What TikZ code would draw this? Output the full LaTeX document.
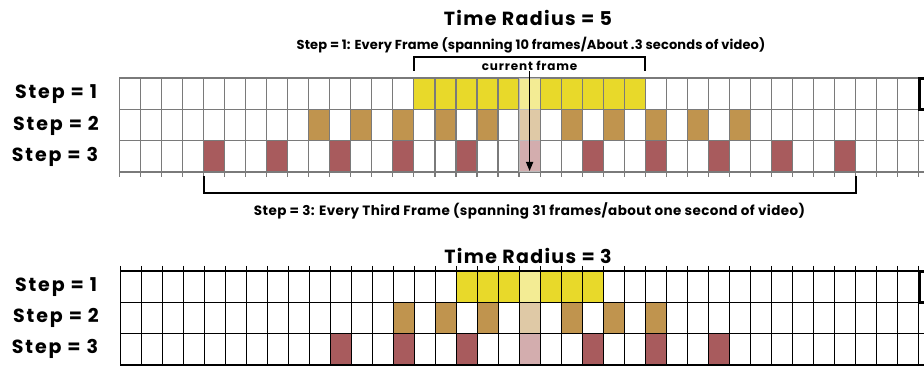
\documentclass[tikz,border=0pt]{standalone}
\usepackage{fontspec}
\setmainfont{Poppins}
\usepackage{tikz}
\usetikzlibrary{arrows.meta}

\definecolor{frameyellow}{HTML}{E8D92A}
\definecolor{frametan}{HTML}{C0944E}
\definecolor{framered}{HTML}{A85B5D}
\definecolor{gridgrey}{HTML}{7A7A7A}

\begin{document}
\begin{tikzpicture}[
            x = 1pt, y = -1pt, % one unit per pixel, y going down
            > = {Triangle[length=9pt, width=7pt]}, % arrow head style
            line join = miter
        ]
        \tikzstyle{every node}=[inner sep = 0pt]
        \tikzstyle{rowlabel}=[font = \fontsize{19}{19}\selectfont\bfseries\addfontfeatures{LetterSpace=10}]
        \tikzstyle{title}=[font = \fontsize{19}{19}\selectfont\bfseries\addfontfeatures{LetterSpace=7}]
        \tikzstyle{caption}=[font = \fontsize{13}{13}\selectfont\bfseries\addfontfeatures{LetterSpace=1}]
        \tikzstyle{bracket}=[draw = black, line width = 2pt]
        \tikzstyle{edgemark}=[draw = black, line width = 3pt]
        \tikzstyle{current}=[fill = white, fill opacity = 0.5]

        \useasboundingbox (0,0) rectangle (924,366);
        \clip (0,0) rectangle (924,366);

        % radius 5 grid
        \foreach \c in {14,...,24}
            \fill[frameyellow] ({119.3+\c*21.04},78) rectangle ++(21.04,31.33);
        \foreach \c in {9,11,...,29}
            \fill[frametan] ({119.3+\c*21.04},109.33) rectangle ++(21.04,31.33);
        \foreach \c in {4,7,...,34}
            \fill[framered] ({119.3+\c*21.04},140.67) rectangle ++(21.04,31.33);
        \foreach \c in {0,...,39}
            \draw[gridgrey, line width = 1.2pt] ({119.3+\c*21.04},78) -- ++(0,99);
        \foreach \r in {0,...,3}
            \draw[gridgrey, line width = 1.2pt] (119.3,{78+\r*31.33}) -- (930,{78+\r*31.33});
        \fill[current] (519.1,78) rectangle ++(21.04,94);
        \draw[edgemark] (930,79) -| (919.5,109.5) -- (930,109.5);

        \node[title] (radA) at (528,18) {Time Radius = 5};
        \node[caption] (spanA) at (531,45) {Step = 1: Every Frame (spanning 10 frames/About .3 seconds of video)};
        \node[caption, font = \fontsize{12}{12}\selectfont\bfseries\addfontfeatures{LetterSpace=7}] (cur) at (529.6,66) {current frame};
        \node[rowlabel] (stepA1) at (56,94) {Step = 1};
        \node[rowlabel] (stepA2) at (56,126) {Step = 2};
        \node[rowlabel] (stepA3) at (55,157) {Step = 3};

        \coordinate (spanAl) at (414,71);
        \coordinate (spanAr) at (645.3,71);
        \draw[bracket] (spanAl) -- ++(0,-14) -| (spanAr);
        \coordinate (curtip) at (529.6,171);
        \draw[->, line width = 1.5pt] (cur.south) -- (curtip);

        \coordinate (spanBl) at (203.5,176);
        \coordinate (spanBr) at (855.7,176);
        \draw[bracket] (spanBl) -- ++(0,17) -| (spanBr);
        \node[caption, font = \fontsize{13.5}{13.5}\selectfont\bfseries\addfontfeatures{LetterSpace=3}] (spanB) at (529.5,211) {Step = 3: Every Third Frame (spanning 31 frames/about one second of video)};

        % radius 3 grid
        \foreach \c in {16,...,22}
            \fill[frameyellow] ({120.7+\c*21.0},271) rectangle ++(21.0,31.33);
        \foreach \c in {13,15,...,25}
            \fill[frametan] ({120.7+\c*21.0},302.33) rectangle ++(21.0,31.33);
        \foreach \c in {10,13,...,28}
            \fill[framered] ({120.7+\c*21.0},333.67) rectangle ++(21.0,31.33);
        \fill[current] (519.7,271) rectangle ++(21.0,94);
        \foreach \c in {0,...,39}
            \draw[black, line width = 1.4pt] ({120.7+\c*21.0},266) -- ++(0,102);
        \foreach \r in {0,...,3}
            \draw[black, line width = 1.4pt] (120.7,{271+\r*31.33}) -- (930,{271+\r*31.33});
        \draw[edgemark] (930,272) -| (919.5,302.5) -- (930,302.5);

        \node[title] (radB) at (528,256) {Time Radius = 3};
        \node[rowlabel] (stepB1) at (56,287) {Step = 1};
        \node[rowlabel] (stepB2) at (56,318) {Step = 2};
        \node[rowlabel] (stepB3) at (55,349) {Step = 3};
    \end{tikzpicture}
\end{document}
